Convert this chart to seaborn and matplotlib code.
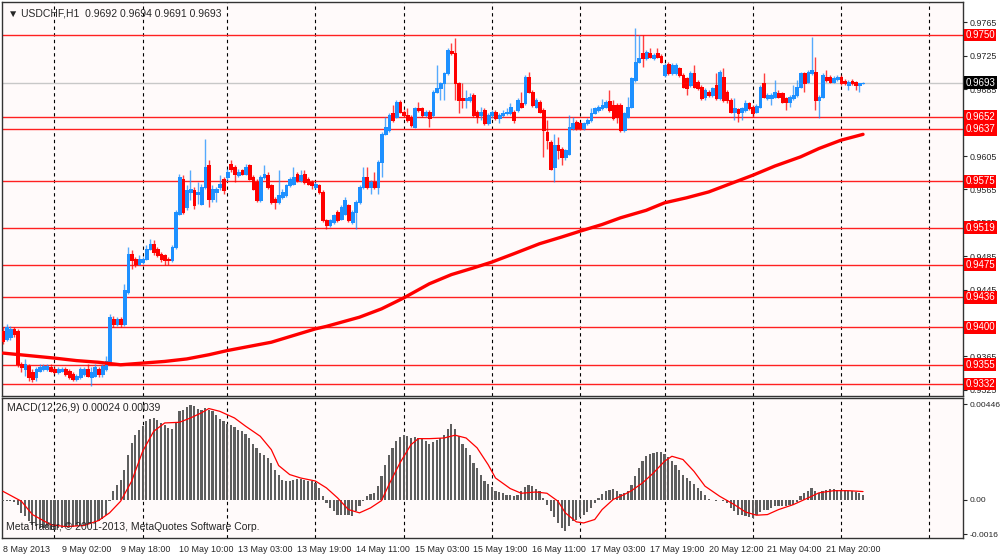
import numpy as np
import matplotlib
matplotlib.use("Agg")
import matplotlib.pyplot as plt
import seaborn as sns

# =========================
# USDCHF H1 candles (prices in pips, 9692 -> 0.9692)
# =========================
opens = [9396, 9386, 9388, 9398, 9396, 9356, 9350, 9354, 9346, 9340,
         9348, 9350, 9350, 9352, 9350, 9346, 9348, 9350, 9348, 9344,
         9338, 9340, 9344, 9350, 9340, 9342, 9350, 9344, 9350, 9358,
         9410, 9404, 9410, 9404, 9442, 9488, 9482, 9476, 9478, 9482,
         9494, 9500, 9494, 9488, 9486, 9482, 9480, 9496, 9536, 9578,
         9544, 9562, 9564, 9560, 9548, 9568, 9594, 9554, 9562, 9568,
         9578, 9580, 9596, 9592, 9582, 9588, 9584, 9594, 9580, 9574,
         9552, 9580, 9582, 9570, 9554, 9550, 9556, 9558, 9570, 9572,
         9584, 9576, 9584, 9578, 9574, 9568, 9570, 9562, 9528, 9522,
         9526, 9538, 9530, 9536, 9546, 9526, 9538, 9550, 9568, 9580,
         9568, 9574, 9568, 9598, 9632, 9636, 9656, 9652, 9670, 9658,
         9654, 9652, 9640, 9662, 9662, 9654, 9658, 9654, 9682, 9686,
         9692, 9704, 9731, 9728, 9692, 9674, 9672, 9672, 9678, 9658,
         9654, 9660, 9644, 9654, 9658, 9650, 9654, 9656, 9656, 9658,
         9660, 9669, 9668, 9700, 9682, 9664, 9670, 9660, 9634, 9622,
         9592, 9618, 9614, 9604, 9608, 9638, 9646, 9644, 9638, 9644,
         9648, 9657, 9660, 9662, 9664, 9671, 9666, 9666, 9666, 9636,
         9652, 9664, 9696, 9718, 9729, 9722, 9729, 9722, 9728, 9725,
         9702, 9715, 9704, 9704, 9710, 9702, 9698, 9690, 9704, 9694,
         9688, 9676, 9682, 9678, 9690, 9674, 9700, 9682, 9672, 9658,
         9661, 9658, 9660, 9668, 9664, 9658, 9664, 9693, 9674, 9674,
         9676, 9680, 9680, 9674, 9670, 9674, 9678, 9688, 9704, 9694,
         9704, 9706, 9672, 9676, 9700, 9700, 9694, 9697, 9700, 9695,
         9690, 9695, 9694, 9690, 9692]
closes = [9384, 9400, 9398, 9392, 9356, 9352, 9356, 9340, 9338, 9350,
          9352, 9354, 9354, 9348, 9346, 9350, 9350, 9344, 9340, 9338,
          9342, 9350, 9350, 9342, 9346, 9352, 9344, 9354, 9360, 9412,
          9404, 9410, 9404, 9444, 9488, 9480, 9476, 9482, 9482, 9494,
          9500, 9490, 9486, 9482, 9480, 9480, 9496, 9538, 9580, 9538,
          9564, 9566, 9546, 9562, 9568, 9592, 9554, 9566, 9566, 9572,
          9564, 9586, 9590, 9584, 9586, 9584, 9592, 9578, 9566, 9552,
          9580, 9584, 9568, 9550, 9550, 9558, 9562, 9570, 9578, 9580,
          9576, 9582, 9574, 9572, 9570, 9571, 9562, 9528, 9522, 9528,
          9534, 9528, 9544, 9552, 9528, 9538, 9550, 9568, 9580, 9568,
          9574, 9568, 9598, 9632, 9640, 9654, 9648, 9670, 9658, 9654,
          9648, 9642, 9662, 9660, 9654, 9658, 9650, 9682, 9686, 9692,
          9704, 9732, 9728, 9692, 9672, 9672, 9674, 9676, 9654, 9652,
          9658, 9644, 9654, 9658, 9650, 9654, 9657, 9658, 9664, 9648,
          9672, 9664, 9700, 9682, 9666, 9672, 9658, 9636, 9624, 9590,
          9618, 9612, 9604, 9612, 9640, 9644, 9638, 9638, 9644, 9648,
          9657, 9662, 9664, 9666, 9670, 9660, 9650, 9652, 9636, 9656,
          9664, 9698, 9718, 9722, 9722, 9730, 9724, 9726, 9724, 9718,
          9714, 9704, 9714, 9714, 9702, 9688, 9686, 9705, 9688, 9686,
          9674, 9684, 9678, 9686, 9674, 9706, 9672, 9672, 9658, 9662,
          9656, 9662, 9668, 9662, 9656, 9665, 9688, 9676, 9678, 9678,
          9682, 9676, 9670, 9670, 9676, 9678, 9688, 9704, 9692, 9706,
          9708, 9672, 9676, 9702, 9696, 9694, 9699, 9700, 9692, 9692,
          9694, 9692, 9690, 9692, 9693]
highs = [9400, 9404, 9402, 9400, 9398, 9358, 9362, 9356, 9350, 9352,
         9356, 9356, 9356, 9356, 9352, 9352, 9352, 9352, 9350, 9346,
         9344, 9352, 9352, 9356, 9352, 9356, 9352, 9356, 9366, 9416,
         9414, 9412, 9412, 9452, 9496, 9492, 9484, 9486, 9484, 9498,
         9506, 9504, 9496, 9490, 9488, 9484, 9498, 9540, 9584, 9582,
         9570, 9588, 9568, 9574, 9572, 9626, 9600, 9570, 9568, 9582,
         9580, 9590, 9600, 9594, 9590, 9590, 9596, 9596, 9582, 9578,
         9582, 9594, 9586, 9572, 9556, 9588, 9566, 9572, 9580, 9592,
         9586, 9588, 9588, 9580, 9576, 9574, 9572, 9564, 9530, 9530,
         9536, 9540, 9546, 9556, 9548, 9540, 9552, 9570, 9592, 9592,
         9576, 9586, 9600, 9634, 9652, 9656, 9666, 9672, 9672, 9660,
         9662, 9654, 9664, 9670, 9664, 9660, 9660, 9684, 9714, 9694,
         9706, 9734, 9740, 9746, 9694, 9692, 9684, 9680, 9680, 9660,
         9664, 9662, 9656, 9660, 9660, 9656, 9660, 9662, 9668, 9660,
         9674, 9682, 9702, 9706, 9684, 9674, 9672, 9662, 9648, 9624,
         9632, 9628, 9616, 9614, 9654, 9652, 9648, 9646, 9646, 9650,
         9662, 9664, 9666, 9673, 9672, 9684, 9672, 9668, 9668, 9658,
         9676, 9700, 9758, 9750, 9750, 9732, 9734, 9728, 9734, 9727,
         9716, 9718, 9716, 9716, 9712, 9704, 9700, 9707, 9714, 9696,
         9690, 9686, 9684, 9688, 9704, 9708, 9710, 9684, 9674, 9674,
         9663, 9664, 9672, 9670, 9666, 9667, 9690, 9704, 9680, 9680,
         9696, 9684, 9682, 9676, 9678, 9690, 9696, 9706, 9706, 9708,
         9748, 9724, 9678, 9704, 9708, 9702, 9701, 9702, 9702, 9697,
         9696, 9697, 9695, 9693, 9694]
lows = [9380, 9384, 9385, 9388, 9352, 9346, 9342, 9336, 9334, 9336,
        9346, 9348, 9348, 9346, 9344, 9344, 9346, 9342, 9338, 9336,
        9336, 9338, 9342, 9340, 9330, 9340, 9340, 9340, 9348, 9356,
        9400, 9402, 9400, 9402, 9440, 9470, 9472, 9474, 9476, 9480,
        9492, 9486, 9484, 9478, 9474, 9474, 9478, 9494, 9534, 9536,
        9540, 9552, 9542, 9548, 9546, 9566, 9544, 9550, 9550, 9564,
        9560, 9576, 9586, 9574, 9580, 9582, 9582, 9576, 9564, 9550,
        9550, 9578, 9566, 9548, 9542, 9548, 9554, 9556, 9568, 9570,
        9574, 9574, 9572, 9570, 9566, 9566, 9560, 9526, 9518, 9520,
        9524, 9526, 9528, 9534, 9526, 9524, 9518, 9548, 9566, 9566,
        9560, 9566, 9560, 9580, 9630, 9634, 9646, 9650, 9656, 9652,
        9646, 9640, 9638, 9658, 9652, 9652, 9640, 9652, 9680, 9672,
        9672, 9702, 9726, 9672, 9656, 9662, 9662, 9670, 9652, 9644,
        9648, 9642, 9642, 9650, 9648, 9644, 9652, 9654, 9654, 9644,
        9658, 9662, 9666, 9680, 9664, 9662, 9656, 9604, 9614, 9588,
        9574, 9602, 9594, 9600, 9606, 9636, 9636, 9636, 9636, 9642,
        9646, 9655, 9658, 9660, 9662, 9658, 9648, 9644, 9634, 9634,
        9650, 9662, 9694, 9716, 9712, 9720, 9722, 9720, 9722, 9716,
        9700, 9702, 9702, 9702, 9700, 9686, 9678, 9688, 9686, 9684,
        9672, 9672, 9676, 9676, 9672, 9672, 9670, 9668, 9656, 9648,
        9646, 9648, 9658, 9660, 9652, 9656, 9662, 9674, 9672, 9666,
        9674, 9674, 9668, 9660, 9664, 9672, 9676, 9686, 9682, 9692,
        9702, 9660, 9650, 9674, 9694, 9692, 9692, 9695, 9690, 9690,
        9684, 9690, 9684, 9682, 9691]

# moving average (red)
ma_bars = [0, 7, 14, 20, 26, 32, 38, 44, 50, 56, 61, 67, 73, 79, 85, 88,
           97, 103, 109, 116, 122, 128, 133, 139, 146, 152, 157, 163, 168,
           175, 180, 186, 192, 198, 204, 210, 217, 222, 228, 234]
ma_vals = [9369, 9366, 9363, 9360, 9358, 9355, 9357, 9359, 9362, 9367,
           9372, 9377, 9382, 9390, 9398, 9401, 9412, 9422, 9435, 9452,
           9463, 9471, 9478, 9488, 9500, 9508, 9515, 9523, 9531, 9540,
           9549, 9555, 9562, 9572, 9582, 9593, 9604, 9614, 9624, 9631]

# support / resistance levels
levels = [9750, 9652, 9637, 9575, 9519, 9475, 9436, 9400, 9355, 9332]
bid = 9693
price_ticks = [9765, 9725, 9685, 9645, 9605, 9565, 9525, 9485, 9445, 9405, 9365, 9325]

# MACD histogram (units of 1e-5)
macd = [-3, -5, -6, -10, -22, -60, -76, -99, -115, -122,
        -130, -130, -130, -138, -138, -130, -130, -127, -127, -127,
        -122, -118, -115, -112, -107, -102, -99, -87, -68, -6,
        40, 71, 95, 141, 211, 265, 301, 327, 343, 366,
        377, 381, 374, 358, 347, 335, 330, 358, 412, 420,
        431, 443, 436, 425, 420, 428, 420, 412, 394, 378,
        366, 353, 347, 338, 327, 319, 307, 288, 260, 242,
        219, 211, 195, 172, 141, 118, 95, 90, 90, 95,
        98, 98, 95, 90, 87, 79, 56, 17, -14, -37,
        -53, -68, -68, -71, -71, -76, -53, -29, -3, 17,
        28, 33, 64, 110, 164, 211, 242, 276, 291, 301,
        296, 288, 291, 288, 284, 273, 260, 270, 281, 288,
        304, 332, 353, 332, 296, 260, 242, 211, 172, 149,
        118, 87, 74, 59, 40, 37, 33, 25, 22, 17,
        25, 43, 59, 68, 64, 53, 40, 9, -22, -53,
        -81, -107, -130, -143, -122, -99, -91, -81, -68, -56,
        -37, -14, 9, 28, 40, 48, 51, 43, 28, 33,
        40, 71, 110, 149, 180, 203, 214, 219, 223, 221,
        212, 198, 180, 164, 141, 118, 102, 90, 74, 56,
        40, 25, 6, 2, -3, 2, -3, -14, -37, -53,
        -68, -71, -76, -81, -84, -71, -56, -45, -45, -37,
        -29, -29, -26, -26, -25, -22, -9, 17, 33, 43,
        56, 40, 33, 40, 48, 50, 50, 48, 47, 45,
        43, 40, 37, 33, 24]
sig_bars = [0, 5, 8, 13, 17, 22, 26, 29, 32, 35, 38, 41, 44, 48, 51, 54, 56,
            59, 63, 66, 70, 73, 75, 78, 81, 85, 88, 91, 94, 97, 100, 103, 105,
            108, 111, 113, 116, 120, 123, 126, 129, 132, 134, 138, 141, 145,
            148, 151, 153, 156, 158, 161, 163, 166, 169, 171, 174, 177, 180,
            182, 185, 188, 191, 195, 199, 202, 205, 208, 211, 215, 219, 222,
            226, 230, 234]
sig_vals = [40, -6, -68, -115, -124, -119, -96, -60, -6, 87, 226, 319, 358,
            361, 381, 405, 425, 412, 381, 343, 296, 234, 160, 118, 102, 88,
            56, 10, -45, -60, -37, -3, 71, 172, 257, 285, 285, 288, 301, 288,
            242, 164, 102, 53, 31, 37, 31, -6, -60, -102, -107, -91, -45, 2,
            25, 43, 79, 126, 180, 203, 188, 133, 64, 17, -22, -56, -71, -68,
            -45, -22, 9, 33, 43, 43, 39]

tick_labels = ["8 May 2013", "9 May 02:00", "9 May 18:00", "10 May 10:00",
               "13 May 03:00", "13 May 19:00", "14 May 11:00", "15 May 03:00",
               "15 May 19:00", "16 May 11:00", "17 May 03:00", "17 May 19:00",
               "20 May 12:00", "21 May 04:00", "21 May 20:00"]
grid_bars = [14, 38, 61, 85, 109, 133, 157, 180, 204, 228, 252]

BG = "#FFFAFA"
UP = "#1E90FF"
DOWN = "#FF0000"
HIST = "#5E5E5E"
FS = 7
FS_TICK = 6.4

sns.set_style("white")
plt.rcParams["font.family"] = ["Liberation Sans Narrow", "Liberation Sans", "DejaVu Sans"]

fig = plt.figure(figsize=(10, 5.54), dpi=100, facecolor="white")
ax = fig.add_axes([0.002, 1 - 396 / 554, 0.961, 394 / 554])
ax2 = fig.add_axes([0.002, 1 - 538 / 554, 0.961, 140 / 554])
xlim = (-0.27, 261.2)

# ---- price panel ----
bars = np.arange(len(closes))
o = np.array(opens) / 1e4
c = np.array(closes) / 1e4
h = np.array(highs) / 1e4
l = np.array(lows) / 1e4
cols = [UP if cc >= oo else DOWN for oo, cc in zip(o, c)]

ax.set_facecolor(BG)
for g in grid_bars:
    ax.axvline(g, color="black", lw=0.8, dashes=(3, 3), zorder=1)
for lv in levels:
    ax.axhline(lv / 1e4, color="#FF2020", lw=1.0, zorder=2)
ax.axhline(bid / 1e4, color="#C8C8C8", lw=1.0, zorder=2)

ax.vlines(bars, l, h, colors=cols, lw=1.0, alpha=0.75, zorder=3)
ax.bar(bars, c - o, bottom=o, width=0.75, color=cols, edgecolor=cols,
       linewidth=0.4, zorder=4, antialiased=False)
sns.lineplot(x=ma_bars, y=np.array(ma_vals) / 1e4, ax=ax, color="#FF0000",
             lw=2.4, estimator=None, sort=False, zorder=5)

ax.set_xlim(*xlim)
ax.set_ylim(0.93176, 0.97895)
ax.set_xticks([])
ax.yaxis.tick_right()
ax.set_yticks([p / 1e4 for p in price_ticks])
ax.set_yticklabels(["%.4f" % (p / 1e4) for p in price_ticks], fontsize=FS_TICK)
ax.tick_params(axis="y", direction="out", length=3, pad=2, width=0.8)
ax.set_xlabel("")
ax.set_ylabel("")
for s in ax.spines.values():
    s.set_color("#333333")
    s.set_linewidth(1)

tr = ax.get_yaxis_transform()
for lv in levels:
    ax.text(1.0025, lv / 1e4, "%.4f" % (lv / 1e4), transform=tr, ha="left",
            va="center", fontsize=FS, color="white", zorder=10, clip_on=False,
            bbox=dict(boxstyle="square,pad=0.15", fc="#FF0000", ec="none"))
ax.text(1.0025, bid / 1e4, "%.4f" % (bid / 1e4), transform=tr, ha="left",
        va="center", fontsize=FS, color="white", zorder=10, clip_on=False,
        bbox=dict(boxstyle="square,pad=0.15", fc="black", ec="none"))

ax.text(0.006, 0.972, "\u25bc USDCHF,H1  0.9692 0.9694 0.9691 0.9693",
        transform=ax.transAxes, fontsize=FS + 0.5, va="center", ha="left", zorder=10)

# ---- MACD panel ----
ax2.set_facecolor(BG)
for g in grid_bars:
    ax2.axvline(g, color="black", lw=0.8, dashes=(3, 3), zorder=1)
ax2.bar(bars, np.array(macd) / 1e5, width=0.6, color=HIST, edgecolor=HIST,
        linewidth=0, zorder=3, antialiased=False)
sns.lineplot(x=sig_bars, y=np.array(sig_vals) / 1e5, ax=ax2, color="#FF0000",
             lw=0.9, estimator=None, sort=False, zorder=4)
ax2.set_xlim(*xlim)
ax2.set_ylim(-0.00177, 0.00474)
ax2.yaxis.tick_right()
ax2.set_yticks([0.00446, 0.0, -0.0016])
ax2.set_yticklabels(["0.00446", "0.00", "-0.0016"], fontsize=6.1)
ax2.tick_params(axis="y", direction="out", length=3, pad=1.5, width=0.8)
ax2.set_xticks(np.arange(0, 16 * len(tick_labels), 16))
ax2.set_xticklabels(tick_labels, fontsize=FS_TICK, ha="left")
ax2.tick_params(axis="x", direction="out", length=4, pad=1, width=0.8)
ax2.set_xlabel("")
ax2.set_ylabel("")
for s in ax2.spines.values():
    s.set_color("#333333")
    s.set_linewidth(1)

ax2.text(0.005, 0.93, "MACD(12,26,9) 0.00024 0.00039", transform=ax2.transAxes,
         fontsize=FS + 0.5, va="center", ha="left", zorder=10)
ax2.text(0.004, 0.075, "MetaTrader, \u00a9 2001-2013, MetaQuotes Software Corp.",
         transform=ax2.transAxes, fontsize=FS + 0.5, va="center", ha="left", zorder=10)

fig.savefig("out.png", dpi=100, facecolor="white")
